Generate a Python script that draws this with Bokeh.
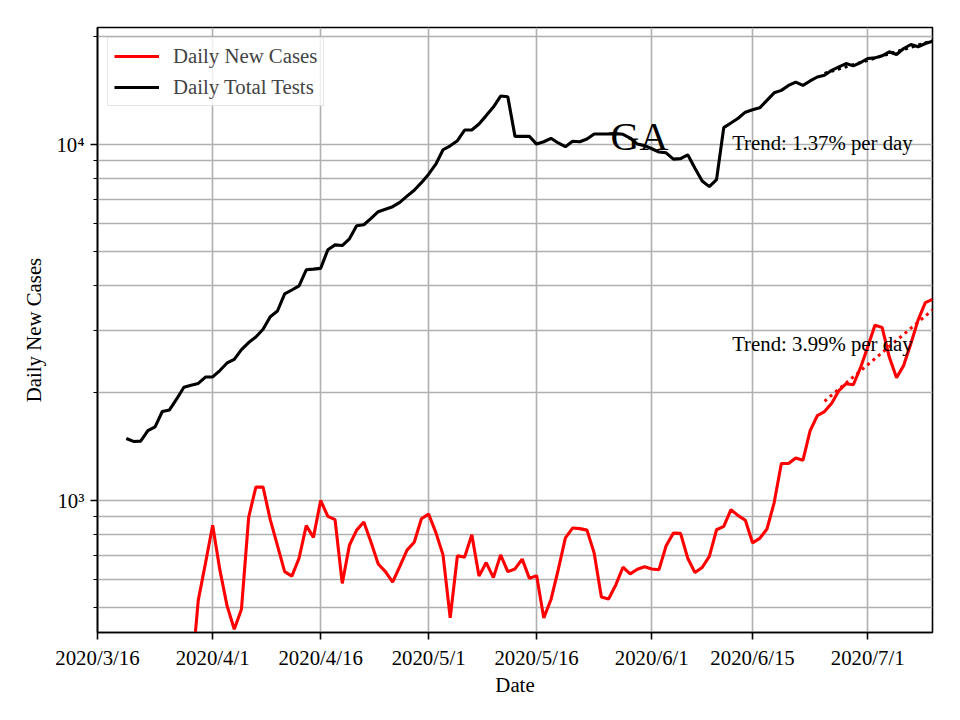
import pandas as pd
from bokeh.plotting import figure
from bokeh.models import FixedTicker, Range1d, ColumnDataSource
from bokeh.core.properties import value
from bokeh.embed import file_html
from bokeh.resources import INLINE

# ---------------- data ----------------
tests_start = "2020-03-20"
tests_values = [
    1490, 1462, 1465, 1567, 1607, 1774, 1792, 1924, 2075, 2103,
    2127, 2217, 2220, 2312, 2428, 2486, 2647, 2771, 2873, 3019,
    3273, 3398, 3794, 3892, 3997, 4436, 4455, 4477, 5049, 5210,
    5189, 5418, 5895, 5935, 6183, 6458, 6563, 6670, 6860, 7140,
    7420, 7790, 8230, 8780, 9640, 9890, 10220, 10950, 10950, 11390,
    12020, 12700, 13640, 13580, 10510, 10510, 10510, 10000, 10150, 10380,
    10070, 9830, 10180, 10150, 10330, 10670, 10670, 10680, 10700, 10650,
    10400, 10000, 9900, 9700, 9500, 9450, 9070, 9100, 9330, 8550,
    7880, 7594, 7950, 11120, 11460, 11820, 12290, 12480, 12640, 13260,
    13930, 14150, 14610, 14930, 14610, 15040, 15430, 15600, 16110, 16470,
    16830, 16580, 16940, 17390, 17460, 17690, 18160, 17840, 18550, 19040,
    18760, 19160, 19450,
]

cases_start = "2020-03-28"
cases_values = [
    240, 310, 524, 665, 850, 637, 505, 434, 494, 895,
    1088, 1088, 882, 745, 630, 612, 687, 848, 786, 998,
    901, 882, 584, 747, 824, 868, 762, 662, 630, 589,
    652, 724, 762, 887, 914, 812, 702, 467, 698, 692,
    800, 612, 668, 606, 702, 630, 641, 683, 603, 614,
    467, 526, 637, 784, 835, 832, 824, 710, 535, 528,
    578, 648, 621, 640, 650, 641, 638, 745, 808, 807,
    687, 626, 647, 695, 826, 844, 941, 905, 878, 759,
    781, 830, 983, 1267, 1267, 1314, 1294, 1567, 1727, 1773,
    1871, 2032, 2123, 2109, 2355, 2693, 3101, 3055, 2523, 2207,
    2391, 2753, 3204, 3585, 3664,
]

trend_dates = ["2020-06-25", "2020-07-10"]
tests_trend = [15800, 19500]
cases_trend = [1896, 3420]

x_tick_dates = ["2020-03-16", "2020-04-01", "2020-04-16", "2020-05-01",
                "2020-05-16", "2020-06-01", "2020-06-15", "2020-07-01"]
x_tick_labels = ["2020/3/16", "2020/4/1", "2020/4/16", "2020/5/1",
                 "2020/5/16", "2020/6/1", "2020/6/15", "2020/7/1"]
y_major_ticks = [1000, 10000]
y_major_labels = ["10\u00b3", "10\u2074"]
y_minor_ticks = [500, 600, 700, 800, 900, 2000, 3000, 4000, 5000, 6000,
                 7000, 8000, 9000, 20000]

x_limits = ["2020-03-16", "2020-07-10"]
y_limits = [425, 21250]

title_text = "GA"
tests_trend_text = "Trend: 1.37% per day"
cases_trend_text = "Trend: 3.99% per day"

# ---------------- styling ----------------
FONT = "Liberation Serif"
FS = "20.8px"
GRID = "#b0b0b0"

tests_dates = pd.date_range(tests_start, periods=len(tests_values), freq="D")
cases_dates = pd.date_range(cases_start, periods=len(cases_values), freq="D")
trend_x = pd.to_datetime(trend_dates)

p = figure(width=944, height=704, output_backend="svg", toolbar_location=None,
           x_axis_type="datetime", y_axis_type="log",
           x_range=Range1d(pd.Timestamp(x_limits[0]), pd.Timestamp(x_limits[1])),
           y_range=Range1d(y_limits[0], y_limits[1]),
           min_border_left=97, min_border_right=12, min_border_top=27,
           min_border_bottom=72)

p.background_fill_color = "white"
p.border_fill_color = "white"
p.outline_line_color = "black"
p.outline_line_width = 1.6

# grid
p.xgrid.grid_line_color = GRID
p.xgrid.grid_line_width = 1.6
p.ygrid.grid_line_color = GRID
p.ygrid.grid_line_width = 1.6
p.ygrid.minor_grid_line_color = GRID
p.ygrid.minor_grid_line_width = 1.6

# x axis
tick_ms = [int(pd.Timestamp(d).value // 10**6) for d in x_tick_dates]
p.xaxis.ticker = FixedTicker(ticks=tick_ms)
p.xaxis.major_label_overrides = {t: l for t, l in zip(tick_ms, x_tick_labels)}
p.xaxis.axis_label = "Date"

# y axis
p.yaxis.ticker = FixedTicker(ticks=y_major_ticks, minor_ticks=y_minor_ticks)
p.yaxis.major_label_overrides = {t: l for t, l in zip(y_major_ticks, y_major_labels)}
p.yaxis.axis_label = "Daily New Cases"

for ax in (p.xaxis[0], p.yaxis[0]):
    ax.axis_line_color = "black"
    ax.axis_line_width = 1.6
    ax.major_tick_line_color = "black"
    ax.major_tick_line_width = 1.6
    ax.major_tick_out = 7
    ax.major_tick_in = 0
    ax.minor_tick_line_color = "black"
    ax.minor_tick_line_width = 1.2
    ax.minor_tick_out = 4
    ax.minor_tick_in = 0
    ax.major_label_text_font = FONT
    ax.major_label_text_font_size = FS
    ax.major_label_text_color = "black"
    ax.axis_label_text_font = FONT
    ax.axis_label_text_font_size = FS
    ax.axis_label_text_font_style = "normal"
    ax.axis_label_text_color = "black"
    ax.major_label_standoff = 6

p.xaxis.minor_tick_line_color = None
p.xaxis.axis_label_standoff = 1
p.yaxis.axis_label_standoff = 8

# lines
r_cases = p.line(cases_dates, cases_values, line_color="#ff0000", line_width=3.1,
                 legend_label="Daily New Cases")
r_tests = p.line(tests_dates, tests_values, line_color="black", line_width=3.1,
                 legend_label="Daily Total Tests")
p.line(trend_x, cases_trend, line_color="#ff0000", line_width=3, line_dash="3 4")
p.line(trend_x, tests_trend, line_color="black", line_width=3, line_dash="3 4")

# texts
txt = ColumnDataSource(dict(
    x=[pd.Timestamp("2020-05-30 07:00"), pd.Timestamp("2020-06-12 04:00"),
       pd.Timestamp("2020-06-12 04:00")],
    y=[10500, 10100, 2760],
    t=[title_text, tests_trend_text, cases_trend_text],
    s=["40px", FS, FS],
    a=["center", "left", "left"],
))
p.text(x="x", y="y", text="t", source=txt, text_font=value(FONT),
       text_font_size="s", text_align="a", text_baseline="alphabetic",
       text_color="black")

# legend
lg = p.legend[0]
lg.location = "top_left"
lg.margin = 10
lg.padding = 6
lg.spacing = 7
lg.glyph_width = 45
lg.glyph_height = 24
lg.label_height = 24
lg.label_standoff = 14
lg.label_text_font = FONT
lg.label_text_font_size = FS
lg.border_line_color = "#cccccc"
lg.border_line_width = 1.6
lg.background_fill_alpha = 0.8

open("out.html", "w").write(file_html(p, INLINE))
